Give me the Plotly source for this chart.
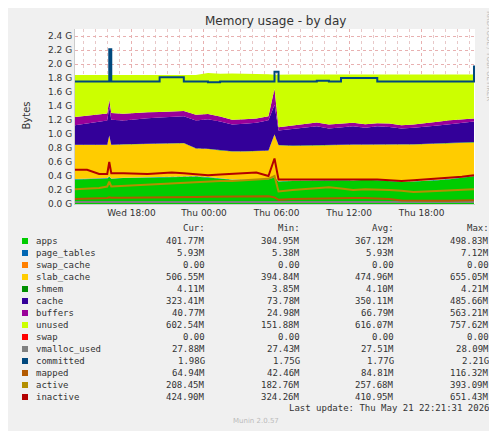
import plotly.graph_objects as go

times = ["2026-05-20 13:20","2026-05-20 14:20","2026-05-20 15:20","2026-05-20 16:00","2026-05-20 16:10",
         "2026-05-20 16:20","2026-05-20 17:20","2026-05-20 18:20","2026-05-20 19:20","2026-05-20 20:20",
         "2026-05-20 21:20","2026-05-20 22:20","2026-05-20 23:20","2026-05-21 00:20","2026-05-21 01:20",
         "2026-05-21 02:20","2026-05-21 03:20","2026-05-21 04:20","2026-05-21 05:20","2026-05-21 05:50",
         "2026-05-21 06:10","2026-05-21 07:20","2026-05-21 08:20","2026-05-21 09:20","2026-05-21 10:20",
         "2026-05-21 11:20","2026-05-21 12:20","2026-05-21 13:20","2026-05-21 14:20","2026-05-21 15:20",
         "2026-05-21 16:20","2026-05-21 17:20","2026-05-21 18:20","2026-05-21 19:20","2026-05-21 20:20",
         "2026-05-21 21:20","2026-05-21 22:20"]

# values in MB
apps = [350,355,360,365,390,360,370,375,380,385,390,395,390,380,360,345,345,350,355,380,320,330,335,340,345,340,335,345,340,330,315,320,325,340,355,370,395]
page_tables = [6]*37
swap_cache = [0]*37
slab_cache = [488,483,478,473,578,478,473,473,468,468,468,468,398,400,400,400,400,400,400,608,514,494,494,494,489,499,504,494,504,509,529,524,524,514,504,494,479]
shmem = [4]*37
cache = [276,306,336,346,416,356,341,356,366,371,376,381,396,420,410,380,390,400,430,420,206,236,251,266,236,251,261,241,256,251,226,236,241,256,271,286,296]
buffers = [120,110,100,100,100,95,95,90,85,80,80,75,80,75,70,70,65,60,60,230,45,50,50,55,55,45,50,50,45,50,45,45,50,55,55,50,40]
unused = [600,580,560,550,350,545,555,540,535,530,520,515,570,585,610,660,655,640,600,200,755,730,710,685,715,705,690,710,695,700,725,715,700,675,655,640,630]
swap = [0]*37
vmalloc_used = [28]*37
committed = [1750,1750,1750,1750,2210,1750,1750,1750,1750,1810,1810,1750,1750,1740,1750,1750,1750,1750,1750,1890,1750,1750,1750,1760,1750,1800,1800,1800,1750,1750,1750,1750,1750,1750,1750,1750,1980]
mapped = [70,75,80,85,95,90,90,90,95,95,100,100,100,105,105,105,105,105,110,95,60,70,75,80,80,85,85,85,80,70,50,45,45,45,45,50,55]
active = [210,220,230,250,320,250,260,270,280,290,300,310,320,330,330,330,340,350,360,400,180,200,210,230,240,220,200,210,210,200,190,170,180,190,200,210,210]
inactive = [490,490,430,430,600,440,440,430,430,440,450,440,420,410,420,430,440,450,400,650,350,350,350,360,350,360,350,350,350,340,330,340,350,360,370,390,410]

names = ["apps","page_tables","swap_cache","slab_cache","shmem","cache","buffers","unused","swap",
         "vmalloc_used","committed","mapped","active","inactive"]
colors = ["#00CC00","#0066B3","#FF8000","#FFCC00","#008F00","#330099","#990099","#CCFF00","#FF0000",
          "#808080","#00487D","#B35A00","#B38F00","#B30000"]
cur = ["401.77M","5.93M","0.00","506.55M","4.11M","323.41M","40.77M","602.54M","0.00","27.88M","1.98G","64.94M","208.45M","424.90M"]
mins = ["304.95M","5.38M","0.00","394.84M","3.85M","73.78M","24.98M","151.88M","0.00","27.43M","1.75G","42.46M","182.76M","324.26M"]
avgs = ["367.12M","5.93M","0.00","474.96M","4.10M","350.11M","66.79M","616.07M","0.00","27.51M","1.77G","84.81M","257.68M","410.95M"]
maxs = ["498.83M","7.12M","0.00","655.05M","4.21M","485.66M","563.21M","757.62M","0.00","28.09M","2.21G","116.32M","393.09M","651.43M"]
yticks = [0,0.2,0.4,0.6,0.8,1.0,1.2,1.4,1.6,1.8,2.0,2.2,2.4]

series = [apps,page_tables,swap_cache,slab_cache,shmem,cache,buffers,unused,swap,
          vmalloc_used,committed,mapped,active,inactive]

fig = go.Figure()
for i in range(9):
    fig.add_trace(go.Scatter(x=times, y=[v*1e6 for v in series[i]], stackgroup="one",
                             mode="lines", line=dict(width=0, color=colors[i]),
                             fillcolor=colors[i], name=names[i], showlegend=False))
for i in range(9, 14):
    fig.add_trace(go.Scatter(x=times, y=[v*1e6 for v in series[i]], mode="lines",
                             line=dict(width=2, color=colors[i], shape="hv" if i == 10 else "linear"),
                             name=names[i], showlegend=False))

W, H = 497, 431
L, R, T, B = 67, 30, 21, 235
ph = H - T - B
OFF = 7
def py(p):  # pixel y -> paper
    return (H - B - (p - OFF)) / ph
def px(p):
    return (p - L) / (W - L - R)

ann = []
font = dict(family="DejaVu Sans Mono", size=9, color="#333")
def A(**k):
    k.setdefault("showarrow", False); k.setdefault("xref", "paper"); k.setdefault("yref", "paper")
    k.setdefault("yanchor", "middle")
    ann.append(k)
A(text="Memory usage - by day", x=0.5, y=py(20), font=dict(family="DejaVu Sans", size=12, color="#333"))
A(text="Bytes", x=px(10), y=py(115), textangle=-90, font=dict(family="DejaVu Sans", size=10, color="#333"))
A(text="RRDTOOL / TOBI OETIKER", x=px(487), y=py(55), textangle=90,
  font=dict(family="DejaVu Sans", size=7, color="#bbb"))
for lab, xe in [("Cur:",199),("Min:",294),("Avg:",388),("Max:",483)]:
    A(text=lab, x=px(xe), y=py(227), xanchor="right", font=font)
shapes = []
for i, n in enumerate(names):
    yy = 240 + 12*i
    shapes.append(dict(type="rect", xref="paper", yref="paper", x0=px(14), x1=px(20),
                       y0=py(yy-3), y1=py(yy+3), fillcolor=colors[i], line=dict(width=0)))
    A(text=n, x=px(26), y=py(yy), xanchor="left", font=font)
    for vals, xe in [(cur,199),(mins,294),(avgs,388),(maxs,483)]:
        A(text=vals[i], x=px(xe), y=py(yy), xanchor="right", font=font)
A(text="Last update: Thu May 21 22:21:31 2026", x=px(483), y=py(407), xanchor="right", font=font)
A(text="Munin 2.0.57", x=px(248), y=py(420), font=dict(family="DejaVu Sans", size=7, color="#bbb"))

fig.update_layout(
    width=W, height=H, margin=dict(l=L, r=R, t=T, b=B),
    paper_bgcolor="#F0F0F0", plot_bgcolor="white",
    annotations=ann, shapes=shapes,
    xaxis=dict(range=["2026-05-20 13:20","2026-05-21 22:25"],
               tickvals=["2026-05-20 18:00","2026-05-21 00:00","2026-05-21 06:00","2026-05-21 12:00","2026-05-21 18:00"],
               ticktext=["Wed 18:00","Thu 00:00","Thu 06:00","Thu 12:00","Thu 18:00"],
               showgrid=True, gridcolor="#e8b0b0", griddash="dot", gridwidth=1,
               minor=dict(dtick=3600000, showgrid=True, gridcolor="#e8c8c8", griddash="dot"),
               tickfont=dict(family="DejaVu Sans", size=9, color="#333"), ticks="", showline=True,
               linecolor="#ccc"),
    yaxis=dict(range=[0, 2.5e9], tickvals=[v*1e9 for v in yticks],
               ticktext=["%.1f G" % v for v in yticks],
               showgrid=True, gridcolor="#e8b0b0", griddash="dot", zeroline=False,
               tickfont=dict(family="DejaVu Sans", size=9, color="#333"), ticks="",
               showline=True, linecolor="#ccc"),
)
fig.write_html("out.html")
